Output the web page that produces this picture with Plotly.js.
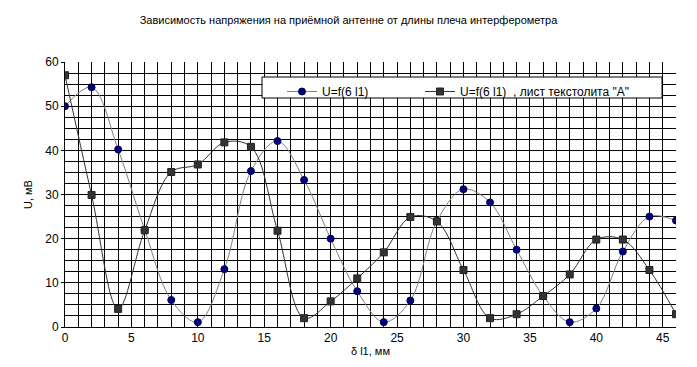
<!DOCTYPE html>
<html>
<head>
<meta charset="utf-8">
<script src="https://cdn.plot.ly/plotly-3.0.1.min.js"></script>
<style>html,body{margin:0;padding:0;background:#fff;}#chart{width:697px;height:367px;}</style>
</head>
<body>
<div id="chart"></div>
<script>
const xValues = [0,2,4,6,8,10,12,14,16,18,20,22,24,26,28,30,32,34,36,38,40,42,44,46];
const seriesA = [50,54.3,40.2,22,6.1,1.1,13.1,35.3,42.1,33.3,20,8.1,1.1,6,24,31.2,28.2,17.5,7,1.1,4.2,17.1,25,24.1];
const seriesB = [57,29.9,4.1,21.9,35.1,36.8,41.8,40.8,21.8,2,5.8,11,16.9,24.9,23.9,12.9,2,2.9,7,11.9,19.8,19.8,12.9,2.9];
const seriesAName = "U=f(6 l1)";
const seriesBName = "U=f(6 l1)  , лист текстолита \"A\"";
const titleText = "Зависимость напряжения на приёмной антенне от длины плеча интерферометра";
const xTitle = "δ l1, мм";
const yTitle = "U, мВ";

const font = "Liberation Sans, Arial, sans-serif";

const data = [
  {
    x: xValues, y: seriesA, name: seriesAName, type: "scatter", mode: "lines+markers", legend: "legend",
    line: {shape: "spline", smoothing: 1, color: "#808080", width: 1},
    marker: {symbol: "circle", size: 7, color: "#000080", line: {color: "#000050", width: 1}}
  },
  {
    x: xValues, y: seriesB, name: seriesBName, type: "scatter", mode: "lines+markers", legend: "legend2",
    line: {shape: "spline", smoothing: 1, color: "#333333", width: 1},
    marker: {symbol: "square", size: 7, color: "#333333", line: {color: "#222222", width: 1}}
  }
];

const plotL = 65, plotW = 611, plotT = 62, plotH = 265;
const px = v => (v - plotL) / plotW;
const py = v => (plotT + plotH - v) / plotH;

const legendBase = {
  orientation: "h", xanchor: "left", y: py(77), yanchor: "top",
  bgcolor: "rgba(0,0,0,0)", borderwidth: 0,
  font: {family: font, size: 12, color: "#000"},
  itemwidth: 30
};

const layout = {
  width: 697, height: 367,
  margin: {l: 65, r: 21, t: 62, b: 40},
  paper_bgcolor: "#fff", plot_bgcolor: "#fff",
  font: {family: font, size: 12, color: "#000"},
  title: {text: titleText, font: {family: font, size: 11, color: "#000"}, x: 0.5, xanchor: "center", y: 0.945, yanchor: "middle"},
  showlegend: true,
  legend: Object.assign({}, legendBase, {x: px(282)}),
  legend2: Object.assign({}, legendBase, {x: px(420)}),
  shapes: [{
    type: "rect", xref: "paper", yref: "paper", layer: "above",
    x0: px(262), x1: px(662), y0: py(98), y1: py(77),
    fillcolor: "#fff", line: {color: "#000", width: 1}
  }],
  xaxis: {
    range: [0, 46], dtick: 5, tick0: 0, showgrid: true, gridcolor: "#000", gridwidth: 1,
    minor: {dtick: 1, showgrid: true, gridcolor: "#000", gridwidth: 1},
    zeroline: false, showline: true, linecolor: "#000", linewidth: 1,
    ticks: "", tickfont: {family: font, size: 12, color: "#000"},
    title: {text: xTitle, font: {family: font, size: 11, color: "#000"}, standoff: 2}
  },
  yaxis: {
    range: [0, 60], dtick: 10, tick0: 0, showgrid: true, gridcolor: "#000", gridwidth: 1,
    minor: {dtick: 2.5, showgrid: true, gridcolor: "#000", gridwidth: 1},
    zeroline: false, showline: true, linecolor: "#000", linewidth: 1,
    ticks: "outside", ticklen: 3, tickcolor: "#000",
    tickfont: {family: font, size: 12, color: "#000"},
    title: {text: yTitle, font: {family: font, size: 11, color: "#000"}, standoff: 10}
  }
};

Plotly.newPlot("chart", data, layout, {displayModeBar: false, staticPlot: true});
</script>
</body>
</html>
